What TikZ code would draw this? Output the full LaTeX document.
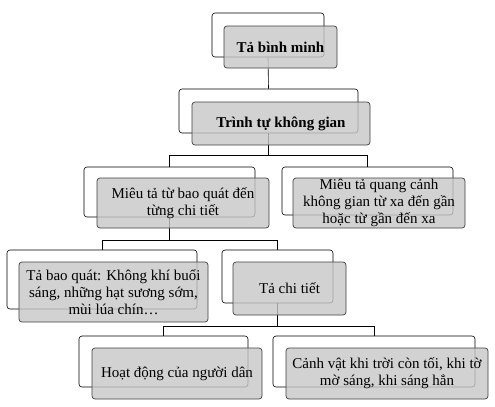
\documentclass[tikz,border=0pt]{standalone}
\usepackage{fontspec}
\setmainfont{Liberation Serif}
\begin{document}
\begin{tikzpicture}[x=1bp,y=-1bp,
  backbox/.style={draw=black, line width=0.6bp, rounded corners=3bp, fill=white, inner sep=0pt},
  frontbox/.style={draw=black!75, line width=0.7bp, rounded corners=3bp, fill=black!22, fill opacity=0.8, text opacity=1, inner sep=0pt, align=center, font=\fontsize{15bp}{17bp}\selectfont},
  link/.style={draw=black, line width=0.6bp}]
\useasboundingbox (0,0) rectangle (495,406);
% back boxes
\node[backbox, minimum width=112bp, minimum height=44bp] (b1) at (268,35) {};
\node[backbox, minimum width=179bp, minimum height=44bp] (b2) at (268.5,111) {};
\node[backbox, minimum width=171bp, minimum height=50bp] (b3) at (169.5,192) {};
\node[backbox, minimum width=171bp, minimum height=48bp] (b4) at (367.5,191) {};
\node[backbox, minimum width=190bp, minimum height=59bp] (b5) at (102,279.5) {};
\node[backbox, minimum width=111bp, minimum height=53bp] (b6) at (277.5,276.5) {};
\node[backbox, minimum width=169bp, minimum height=51bp] (b7) at (163.5,361.5) {};
\node[backbox, minimum width=202bp, minimum height=51bp] (b8) at (374,361.5) {};
% junctions
\coordinate (j2) at (268.5,155);
\coordinate (j3) at (169.5,240);
\coordinate (j6) at (277.5,326);
% connectors
\draw[link] (b1.south) -- (b2.north);
\draw[link] (b2.south) -- (j2);
\draw[link] (j2) -| (b3.north);
\draw[link] (j2) -| (b4.north);
\draw[link] (b3.south) -- (j3);
\draw[link] (j3) -| (b5.north);
\draw[link] (j3) -| (b6.north);
\draw[link] (b6.south) -- (j6);
\draw[link] (j6) -| (b7.north);
\draw[link] (j6) -| (b8.north);
% front boxes
\node[frontbox, minimum width=113bp, minimum height=42bp] (f1) at (280.5,47) {\textbf{Tả bình minh}};
\node[frontbox, minimum width=178bp, minimum height=43bp] (f2) at (281,123.5) {\textbf{Trình tự không gian}};
\node[frontbox, minimum width=172bp, minimum height=50bp] (f3) at (183,203) {Miêu tả từ bao quát đến\\từng chi tiết};
\node[frontbox, minimum width=172bp, minimum height=50bp] (f4) at (379,203) {Miêu tả quang cảnh\\không gian từ xa đến gần\\hoặc từ gần đến xa};
\node[frontbox, minimum width=189bp, minimum height=60bp] (f5) at (113.5,292) {Tả bao quát: Không khí buổi\\sáng, những hạt sương sớm,\\mùi lúa chín…};
\node[frontbox, minimum width=113bp, minimum height=53bp] (f6) at (289.5,288.5) {Tả chi tiết};
\node[frontbox, minimum width=170bp, minimum height=51bp] (f7) at (177,373.5) {Hoạt động của người dân};
\node[frontbox, minimum width=202bp, minimum height=51bp] (f8) at (387,373.5) {Cảnh vật khi trời còn tối, khi tờ\\mờ sáng, khi sáng hẳn};
\end{tikzpicture}
\end{document}
